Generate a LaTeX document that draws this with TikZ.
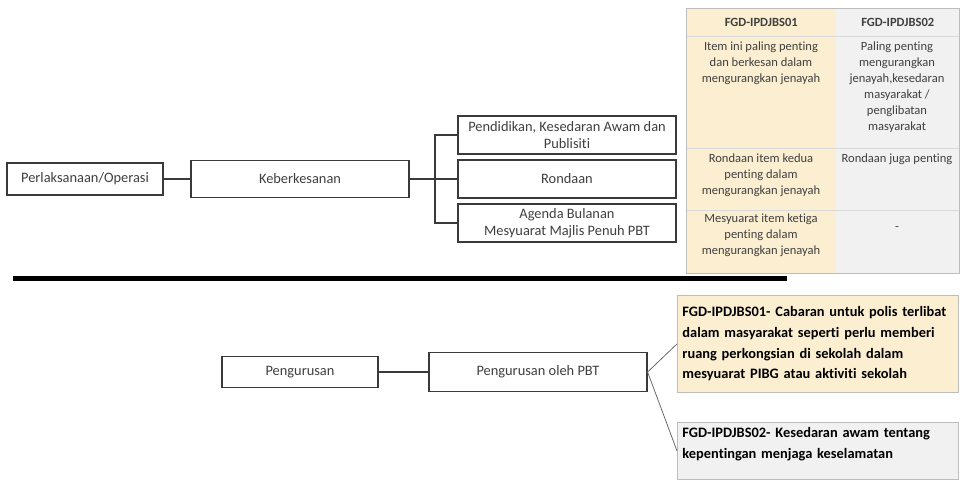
\documentclass[tikz,border=0pt]{standalone}
\usepackage{fontspec}
\setmainfont{Carlito}[Ligatures=NoCommon]
\usetikzlibrary{positioning}
\definecolor{tbYellow}{HTML}{FCEFD1}
\definecolor{tbGray}{HTML}{F1F1F1}
\definecolor{tbRule}{HTML}{DADADA}
\definecolor{tbEdge}{HTML}{BDBDBD}
\definecolor{txGray}{HTML}{3F3F3F}
\definecolor{lnDark}{HTML}{3A3A3A}
\definecolor{lnGray}{HTML}{6A6A6A}
\begin{document}
\begin{tikzpicture}[x=0.75pt,y=-0.75pt,
  bx/.style={draw=lnDark, fill=white, line width=0.9pt, inner sep=0pt, align=center,
             text=txGray, font=\fontsize{10.8}{13}\selectfont},
  ln/.style={draw=lnDark, line width=0.8pt},
  cell/.style={inner sep=0pt, anchor=north west, minimum width=112.5pt},
  cellB/.style={cell, fill=tbGray, minimum width=92.25pt},
  ct/.style={anchor=north, inner sep=0pt, align=center, text=txGray,
             font=\fontsize{9.4}{12}\selectfont},
  hd/.style={inner sep=0pt, text=txGray, font=\fontsize{9.4}{12}\selectfont\bfseries},
  co/.style={draw=tbEdge, line width=0.6pt, inner xsep=3.75pt, inner ysep=0pt,
             anchor=north west, minimum width=210.75pt, text width=203.25pt, align=left,
             font=\fontsize{10.8}{15.5}\selectfont\bfseries}]
  \useasboundingbox (0,0) rectangle (960,479);
  % top part
  \node[bx, minimum width=117pt, minimum height=24pt] (opr) at (85,179) {Perlaksanaan/Operasi};
  \node[bx, minimum width=163.5pt, minimum height=27.75pt] (kbk) at (300,179) {Keberkesanan};
  \node[bx, minimum width=163.5pt, minimum height=28.5pt] (pend) at (567,135)
       {Pendidikan, Kesedaran Awam dan\\Publisiti};
  \node[bx, minimum width=163.5pt, minimum height=28.5pt] (ron) at (567,179) {Rondaan};
  \node[bx, minimum width=163.5pt, minimum height=28.5pt] (agd) at (567,223)
       {Agenda Bulanan\\Mesyuarat Majlis Penuh PBT};
  \coordinate (jt) at (435,179);
  \draw[ln] (opr) -- (kbk);
  \draw[ln] (kbk) -- (ron);
  \draw[ln] (pend.west) -| (jt) |- (agd.west);
  % table
  \node[cell, fill=tbYellow, minimum height=21pt] (hA) at (686,8) {};
  \node[cellB, minimum height=21pt] (hB) at (836,8) {};
  \node[cell, fill=tbYellow, minimum height=84pt] (rA1) at (686,36) {};
  \node[cellB, minimum height=84pt] (rB1) at (836,36) {};
  \node[cell, fill=tbYellow, minimum height=46.5pt] (rA2) at (686,148) {};
  \node[cellB, minimum height=46.5pt] (rB2) at (836,148) {};
  \node[cell, fill=tbYellow, minimum height=47.25pt] (rA3) at (686,210) {};
  \node[cellB, minimum height=47.25pt] (rB3) at (836,210) {};
  \draw[tbRule, line width=0.8pt] (hA.south west) -- (hB.south east);
  \draw[tbRule, line width=0.8pt] (rA1.south west) -- (rB1.south east);
  \draw[tbRule, line width=0.8pt] (rA2.south west) -- (rB2.south east);
  \draw[tbEdge, line width=0.6pt] (hA.north west) rectangle (rB3.south east);
  \node[hd] (thA) at (hA.center) {FGD-IPDJBS01};
  \node[hd] (thB) at (hB.center) {FGD-IPDJBS02};
  \node[ct] (tA1) at (761,42) {Item ini paling penting\\dan berkesan dalam\\mengurangkan jenayah};
  \node[ct] (tB1) at (897,42) {Paling penting\\mengurangkan\\jenayah,kesedaran\\masyarakat /\\penglibatan\\masyarakat};
  \node[ct] (tA2) at (761,154) {Rondaan item kedua\\penting dalam\\mengurangkan jenayah};
  \node[ct] (tB2) at (897,154) {Rondaan juga penting};
  \node[ct] (tA3) at (761,214) {Mesyuarat item ketiga\\penting dalam\\mengurangkan jenayah};
  \node[ct, anchor=center] (tB3) at (897,228) {-};
  % separator
  \coordinate (sepL) at (13,278.5);
  \coordinate (sepR) at (787,278.5);
  \draw[line width=3.75pt] (sepL) -- (sepR);
  % bottom part
  \node[bx, minimum width=117pt, minimum height=23.25pt] (pgr) at (300,372) {Pengurusan};
  \node[bx, minimum width=163.5pt, minimum height=29.25pt] (pbt) at (538,372) {Pengurusan oleh PBT};
  \draw[ln] (pgr) -- (pbt);
  \node[co, fill=tbYellow, minimum height=72.75pt] (c1) at (677,295)
       {FGD-IPDJBS01- Cabaran untuk polis terlibat\\dalam masyarakat seperti perlu memberi\\ruang perkongsian di sekolah dalam\\mesyuarat PIBG atau aktiviti sekolah};
  \node[co, fill=tbGray, minimum height=42.75pt] (c2) at (677,422) {};
  \node[co, draw=none, text width=203.25pt, minimum width=0pt] (c2t) at (677,427)
       {FGD-IPDJBS02- Kesedaran awam tentang\\kepentingan menjaga keselamatan};
  \draw[draw=lnGray, line width=0.6pt] (pbt.east) -- (c1.west);
  \draw[draw=lnGray, line width=0.6pt] (pbt.east) -- (c2.west);
\end{tikzpicture}
\end{document}
